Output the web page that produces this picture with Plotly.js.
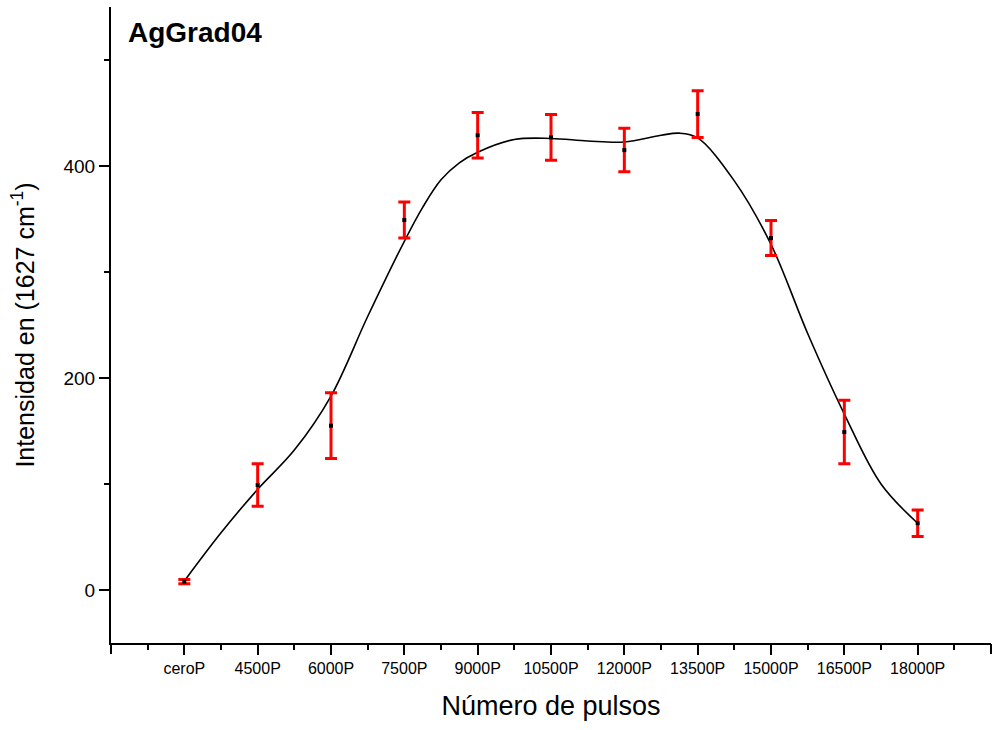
<!DOCTYPE html>
<html>
<head>
<meta charset="utf-8">
<script src="https://cdn.plot.ly/plotly-3.0.1.min.js"></script>
<style>
  html, body { margin: 0; padding: 0; background: #ffffff; }
  #chart { width: 997px; height: 730px; }
</style>
</head>
<body>
<div id="chart"></div>
<script>
// Pulse-count categories along the x axis
const categories = ['ceroP', '4500P', '6000P', '7500P', '9000P', '10500P',
                    '12000P', '13500P', '15000P', '16500P', '18000P'];

// Measured intensity (1627 cm^-1 band) and its uncertainty
const intensity = [8, 99, 155, 349, 429, 427, 415, 449, 332, 149, 63];
const errors    = [2, 20, 31, 17, 21.5, 21.5, 20.5, 22, 16.5, 30, 12.5];

// Smoothed trend curve, sampled along the category index
const curveIndex = [0, 0.5, 1, 1.5, 2, 2.5, 3, 3.25, 3.5, 3.75, 4, 4.5, 5, 5.5, 6, 6.5, 6.75, 7, 7.5, 8, 8.5, 9, 9.5, 10];
const curveValue = [8.5, 54, 95, 132, 183, 258, 329, 361, 387, 403, 413, 425, 426, 423.6, 422.6, 429, 431, 426.5, 386, 326, 242, 166, 100, 63];

// Y axis labels
const yTicks = [0, 200, 400];

// Long ticks closing both ends of the x axis
const xEndTicks = [-1, 11];

const catIndex = categories.map((_, i) => i);
const font = 'Arial, "Liberation Sans", sans-serif';

const traces = [
  {
    x: curveIndex,
    y: curveValue,
    type: 'scatter',
    mode: 'lines',
    line: { color: '#000000', width: 1.6, shape: 'spline', smoothing: 1 },
    hoverinfo: 'skip',
    showlegend: false
  },
  {
    x: catIndex,
    y: intensity,
    type: 'scatter',
    mode: 'markers',
    marker: { symbol: 'square', size: 4, color: '#000000' },
    error_y: { type: 'data', array: errors, visible: true, color: '#ff0000', thickness: 3, width: 6 },
    showlegend: false
  },
  // Empty carrier trace so the end-tick axis is drawn
  { x: [], y: [], xaxis: 'x2', yaxis: 'y', type: 'scatter', mode: 'markers', showlegend: false, hoverinfo: 'skip' }
];

const layout = {
  width: 997,
  height: 730,
  margin: { l: 111, r: 6, t: 7, b: 87 },
  paper_bgcolor: '#ffffff',
  plot_bgcolor: '#ffffff',
  font: { family: font, color: '#000000' },
  xaxis: {
    range: [-1, 11],
    tickmode: 'array',
    tickvals: catIndex,
    ticktext: categories,
    ticks: 'outside',
    ticklen: 10,
    tickwidth: 2,
    tickcolor: '#000000',
    tickfont: { family: font, size: 16, color: '#000000' },
    minor: { dtick: 0.5, tick0: 0, ticks: 'outside', ticklen: 5, tickwidth: 2, tickcolor: '#000000', showgrid: false },
    showline: true,
    linecolor: '#000000',
    linewidth: 2,
    showgrid: false,
    zeroline: false,
    title: { text: 'Número de pulsos', font: { family: font, size: 27, color: '#000000' }, standoff: 20 }
  },
  xaxis2: {
    range: [-1, 11],
    overlaying: 'x',
    anchor: 'y',
    side: 'bottom',
    tickmode: 'array',
    tickvals: xEndTicks,
    showticklabels: false,
    ticks: 'outside',
    ticklen: 10,
    tickwidth: 2,
    tickcolor: '#000000',
    showline: false,
    showgrid: false,
    zeroline: false
  },
  yaxis: {
    range: [-50, 550],
    tickmode: 'array',
    tickvals: yTicks,
    ticktext: yTicks.map(String),
    ticks: 'outside',
    ticklen: 10,
    tickwidth: 2,
    tickcolor: '#000000',
    tickfont: { family: font, size: 19, color: '#000000' },
    minor: { dtick: 100, tick0: 0, ticks: 'outside', ticklen: 5, tickwidth: 2, tickcolor: '#000000', showgrid: false },
    showline: true,
    linecolor: '#000000',
    linewidth: 2,
    showgrid: false,
    zeroline: false,
    title: { text: 'Intensidad en (1627 cm<sup>-1</sup>)', font: { family: font, size: 25, color: '#000000' }, standoff: 22 }
  },
  annotations: [
    {
      text: '<b>AgGrad04</b>',
      xref: 'paper', yref: 'paper',
      x: 0.0165, y: 0.987,
      xanchor: 'left', yanchor: 'top',
      showarrow: false,
      font: { family: font, size: 28, color: '#000000' }
    }
  ]
};

Plotly.newPlot('chart', traces, layout, { displayModeBar: false, staticPlot: true });
</script>
</body>
</html>
